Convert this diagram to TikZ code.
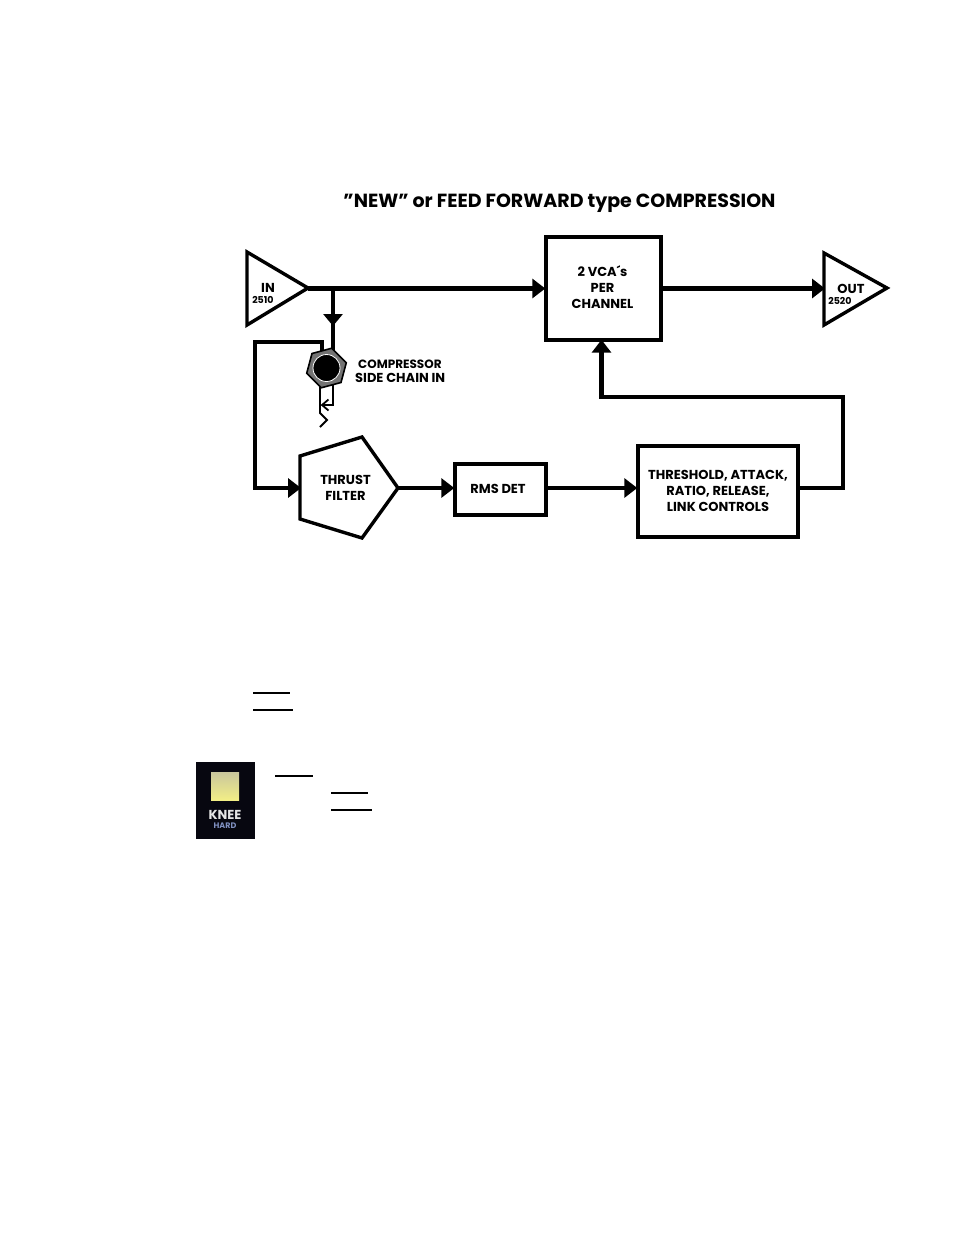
\documentclass[tikz,border=0pt]{standalone}
\usepackage{fontspec}
\setmainfont{Poppins}
\usetikzlibrary{arrows.meta, shapes.geometric}
\definecolor{kneebg}{HTML}{070710}
\definecolor{kneeblue}{HTML}{7F8FC0}
\definecolor{padtop}{HTML}{C9C69C}
\definecolor{padbottom}{HTML}{F2EE86}
\tikzset{
    wire/.style={line width=4.2pt},
    flow/.style={wire, -{Triangle[length=13pt, width=19pt]}, shorten >=-1pt},
    thin wire/.style={line width=1.8pt},
    outline/.style={line width=3.4pt},
    block/.style={draw, outline, align=center, inner sep=0pt},
    label/.style={align=center, inner sep=0pt, font=\fontsize{13}{16}\selectfont\bfseries},
    small label/.style={inner sep=0pt, font=\fontsize{9.5}{10}\selectfont\bfseries},
    rule/.style={line width=1.2pt}
}

\begin{document}
\begin{tikzpicture}[x=1pt, y=-1pt]
    \path [use as bounding box, fill=white] (0, 0) rectangle (954, 1235);

    \node [font=\fontsize{19}{22}\selectfont\bfseries, inner sep=0pt] (title) at (559.5, 203) {”NEW” or FEED FORWARD type COMPRESSION};

    \draw [outline] (247, 252) -- (308, 288) -- (247, 325) -- cycle;
    \coordinate (in tip) at (308, 288.5);
    \node [label] (in) at (268, 287.5) {IN};
    \node [small label] (in num) at (263, 300) {2510};

    \draw [outline] (824, 253) -- (887, 288) -- (824, 325) -- cycle;
    \coordinate (out base) at (824, 288.5);
    \node [label] (out) at (851, 288.5) {OUT};
    \node [small label] (out num) at (840, 301) {2520};

    \node [block, minimum width=115pt, minimum height=103pt] (vca) at (603.5, 288.5) {};
    \node [block, minimum width=91pt, minimum height=51pt] (rms) at (500.5, 489.5) {};
    \node [block, minimum width=160pt, minimum height=91pt] (thresh) at (718, 491.5) {};
    \node [label] (vca text) at (602.5, 287) {2 VCA´s\\PER\\CHANNEL};
    \node [label] (rms text) at (498, 488.5) {RMS DET};
    \node [label] (thresh text) at (718, 490.5) {THRESHOLD, ATTACK,\\RATIO, RELEASE,\\LINK CONTROLS};

    \draw [outline] (300, 456) -- (362, 437) -- (398, 488) -- (362, 538) -- (300, 519) -- cycle;
    \coordinate (thrust tip) at (398, 488);
    \coordinate (thrust base) at (300, 488);
    \node [label] (thrust) at (345.5, 488) {THRUST\\FILTER};

    \node [label, anchor=west, font=\fontsize{12}{13}\selectfont\bfseries] (comp) at (358, 364.5) {COMPRESSOR};
    \node [label, anchor=west] (side) at (355, 377.5) {SIDE CHAIN IN};

    \coordinate (tap) at (333, 288);
    \coordinate (tap arrow) at (333, 326);
    \coordinate (tap end) at (333, 352);
    \coordinate (ring top) at (322, 352);
    \coordinate (loop a) at (322, 342);
    \coordinate (loop b) at (255, 342);
    \coordinate (tip top) at (320, 385);
    \coordinate (tip end) at (320, 413);
    \coordinate (tip tail) at (320, 427);
    \coordinate (sleeve top) at (333, 385);
    \coordinate (sleeve low) at (333, 405);
    \coordinate (sleeve end) at (322, 405);
    \coordinate (feed a) at (843, 397);

    \draw [flow] (in tip) -- (vca.west |- in tip);
    \draw [flow] (vca.east |- in tip) -- (out base);
    \draw [wire] (tap) -- (tap end);
    \draw [wire, -{Triangle[length=12pt, width=19pt]}] (tap) -- (tap arrow);
    \draw [flow] (ring top) -- (loop a) -- (loop b) |- (thrust base);
    \draw [flow] (thrust tip) -- (rms.west |- thrust tip);
    \draw [flow] (rms.east |- thrust tip) -- (thresh.west |- thrust tip);
    \draw [flow, shorten >=-2pt] (thresh.east |- thrust tip) -| (feed a) -| ([xshift=-2pt]vca.south);
    \draw [thin wire] (sleeve top) -- (sleeve low) -- (sleeve end);
    \draw [thin wire] (328.5, 399.5) -- (sleeve end) -- (328.5, 410.5);
    \draw [thin wire] (tip top) -- (tip end) -- (327, 420) -- (tip tail);

    % side chain jack
    \node [draw=black, fill=black!55, line width=1.6pt, regular polygon, regular polygon sides=6, minimum size=41pt, inner sep=0pt, rotate=15] (jack) at (326.5, 368) {};
    \node [draw=white, fill=black, line width=0.8pt, circle, minimum size=27pt, inner sep=0pt] (hole) at (jack.center) {};

    \draw [rule] (253, 693) -- (290, 693);
    \draw [rule] (253, 710) -- (293, 710);
    \draw [rule] (275, 776) -- (313, 776);
    \draw [rule] (331, 793) -- (368, 793);
    \draw [rule] (331, 810) -- (372, 810);

    % knee switch
    \fill [kneebg] (196, 762) rectangle (255, 839);
    \shade [top color=padtop, bottom color=padbottom] (211, 772) rectangle (239, 800);
    \node [font=\fontsize{13}{14}\selectfont\bfseries, text=black!10, inner sep=0pt] (knee) at (225, 815) {KNEE};
    \node [font=\fontsize{8}{9}\selectfont\bfseries, text=kneeblue, inner sep=0pt] (hard) at (225, 826) {HARD};
\end{tikzpicture}
\end{document}
